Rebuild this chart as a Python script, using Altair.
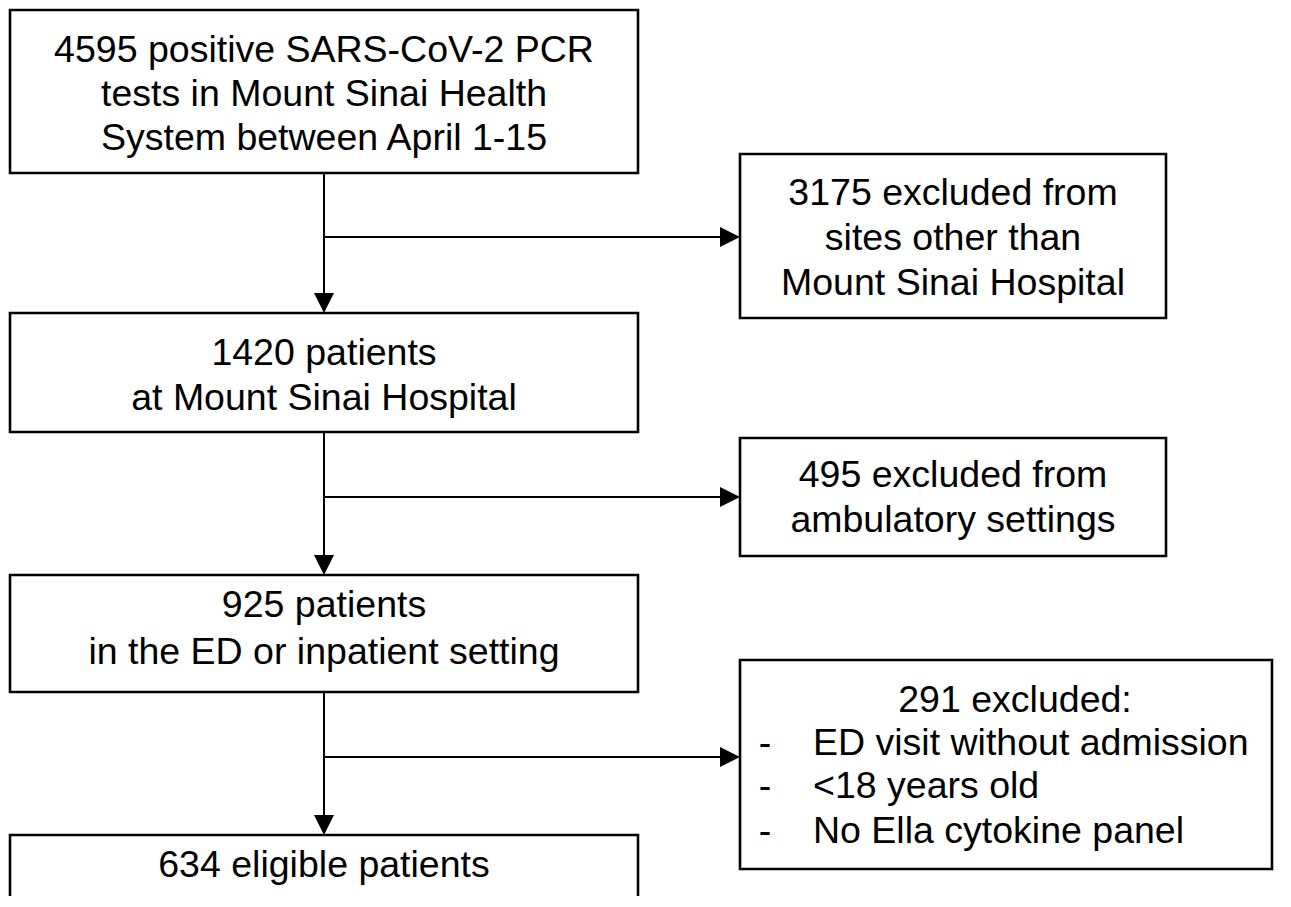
import altair as alt
import pandas as pd

# ---- boxes (page pixel coordinates) ----
box_x0 = [10, 740, 10, 740, 10, 740, 10]
box_x1 = [638, 1166, 638, 1166, 638, 1272, 638]
box_y0 = [10, 154, 313, 438, 575, 660, 835]
box_y1 = [173, 318, 432, 556, 692, 869, 905]

# ---- centred text lines ----
c_text = ["4595 positive SARS-CoV-2 PCR", "tests in Mount Sinai Health", "System between April 1-15",
          "3175 excluded from", "sites other than", "Mount Sinai Hospital",
          "1420 patients", "at Mount Sinai Hospital",
          "495 excluded from", "ambulatory settings",
          "925 patients", "in the ED or inpatient setting",
          "291 excluded:",
          "634 eligible patients"]
c_x = [324, 324, 324, 953, 953, 953, 324, 324, 953, 953, 324, 324, 1015, 324]
c_y = [62, 106, 150, 205, 250, 295, 365, 410, 487, 532, 617, 664, 712, 877]

# ---- bullet list in the last exclusion box ----
b_text = ["ED visit without admission", "<18 years old", "No Ella cytokine panel"]
b_dash_x = [765, 765, 765]
b_x = [813, 813, 813]
b_y = [755, 798, 843]

# ---- connectors ----
trunk_x = 324
v_y0 = [173, 432, 692]
v_y1 = [313, 575, 835]
branch_y = [237, 497, 757]
branch_x1 = [740, 740, 740]

FONT = "Liberation Sans"
FS = 37.5

xs = alt.Scale(domain=[8, 1283], nice=False, zero=False)
ys = alt.Scale(domain=[8, 896], nice=False, zero=False, reverse=True)

boxes = pd.DataFrame({"x": box_x0, "x2": box_x1, "y": box_y0, "y2": box_y1})
ctext = pd.DataFrame({"x": c_x, "y": c_y, "t": c_text})
btext = pd.DataFrame({"x": b_x, "y": b_y, "t": b_text})
bdash = pd.DataFrame({"x": b_dash_x, "y": b_y, "t": ["-"] * 3})

vlines = pd.DataFrame({"x": [trunk_x] * 3, "y": v_y0, "y2": [v - 18 for v in v_y1]})
hlines = pd.DataFrame({"x": [trunk_x] * 3, "x2": [v - 18 for v in branch_x1], "y": branch_y})
down_heads = pd.DataFrame({"x": [trunk_x] * 3, "y": [v - 10 for v in v_y1]})
right_heads = pd.DataFrame({"x": [v - 10 for v in branch_x1], "y": branch_y})

X = lambda f="x": alt.X(f"{f}:Q", scale=xs, axis=None)
Y = lambda f="y": alt.Y(f"{f}:Q", scale=ys, axis=None)

rects = alt.Chart(boxes).mark_rect(fill="white", stroke="black", strokeWidth=2.6).encode(
    x=X(), x2="x2:Q", y=Y(), y2="y2:Q")

vr = alt.Chart(vlines).mark_rule(color="black", strokeWidth=2).encode(x=X(), y=Y(), y2="y2:Q")
hr = alt.Chart(hlines).mark_rule(color="black", strokeWidth=2).encode(x=X(), x2="x2:Q", y=Y())

dh = alt.Chart(down_heads).mark_point(
    shape="M-1,-1L1,-1L0,1Z", filled=True, color="black", opacity=1, size=400, strokeWidth=0
).encode(x=X(), y=Y())
rh = alt.Chart(right_heads).mark_point(
    shape="M-1,-1L1,0L-1,1Z", filled=True, color="black", opacity=1, size=400, strokeWidth=0
).encode(x=X(), y=Y())

ct = alt.Chart(ctext).mark_text(font=FONT, fontSize=FS, align="center", baseline="alphabetic",
                                color="black").encode(x=X(), y=Y(), text="t:N")
bt = alt.Chart(btext).mark_text(font=FONT, fontSize=FS, align="left", baseline="alphabetic",
                                color="black").encode(x=X(), y=Y(), text="t:N")
bd = alt.Chart(bdash).mark_text(font=FONT, fontSize=FS, align="center", baseline="alphabetic",
                                color="black").encode(x=X(), y=Y(), text="t:N")

chart = alt.layer(vr, hr, dh, rh, rects, ct, bt, bd).properties(
    width=1275, height=888, padding=0, autosize=alt.AutoSizeParams(type="none"),
    background="white"
).configure_view(stroke=None)

chart.save("out.html", embed_options={"renderer": "svg", "actions": False})
